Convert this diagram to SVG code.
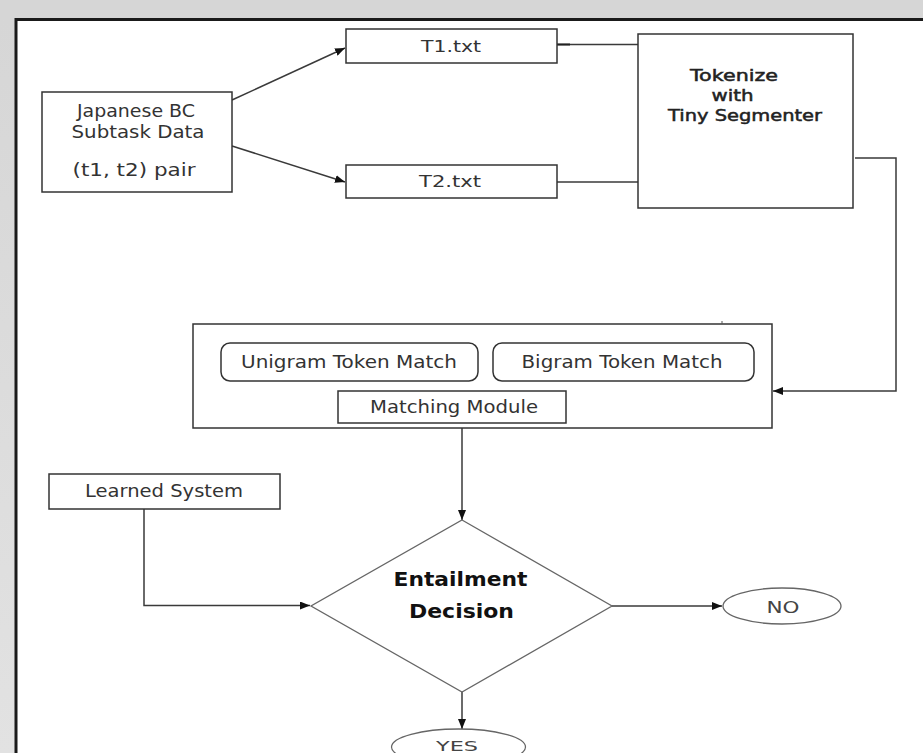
<svg xmlns="http://www.w3.org/2000/svg" width="923" height="753" viewBox="0 0 923 753">
<defs>
<style>
.box{fill:#fff;stroke:#333;stroke-width:1.5}
.dia{fill:#fff;stroke:#666;stroke-width:1.3}
.con{fill:none;stroke:#3a3a3a;stroke-width:1.5}
.t{font-family:"Comic Sans MS","DejaVu Sans",sans-serif;fill:#333;text-anchor:middle}
.tb{font-family:"Comic Sans MS","DejaVu Sans",sans-serif;fill:#111;font-weight:bold;text-anchor:middle}
.tk{font-family:"Comic Sans MS","DejaVu Sans",sans-serif;fill:#222;stroke:#222;stroke-width:0.5;text-anchor:middle}
.tl{font-family:"DejaVu Sans","Liberation Sans",sans-serif;fill:#444;text-anchor:middle}
</style>
<linearGradient id="side" x1="0" y1="0" x2="0" y2="1">
<stop offset="0" stop-color="#d6d6d6"/>
<stop offset="1" stop-color="#e2e2e2"/>
</linearGradient>
<marker id="ah" viewBox="0 0 10 8" refX="10" refY="4" markerWidth="10" markerHeight="8" markerUnits="userSpaceOnUse" orient="auto">
<path d="M0,0 L10,4 L0,8 Z" fill="#111"/>
</marker>
</defs>

<rect x="0" y="0" width="923" height="753" fill="#d6d6d6"/>
<rect x="0" y="19" width="16" height="734" fill="url(#side)"/>
<rect x="16" y="19" width="907" height="734" fill="#fff"/>
<path d="M16,753 V19.5 H923" fill="none" stroke="#1a1a1a" stroke-width="3"/>

<g id="connectors">
<line class="con" x1="232" y1="100" x2="345" y2="48" marker-end="url(#ah)"/>
<line class="con" x1="232" y1="146" x2="345" y2="182" marker-end="url(#ah)"/>
<line class="con" x1="557" y1="44.5" x2="638" y2="44.5"/>
<line x1="557" y1="44.5" x2="570" y2="44.5" stroke="#222" stroke-width="2"/>
<line class="con" x1="557" y1="182" x2="638" y2="182"/>
<path class="con" d="M855,158 H896 V391 H773" marker-end="url(#ah)"/>
<line class="con" x1="462" y1="428" x2="462" y2="520" marker-end="url(#ah)"/>
<path class="con" d="M144,509 V605.5 H310" marker-end="url(#ah)"/>
<line class="con" x1="612" y1="606" x2="722" y2="606" marker-end="url(#ah)"/>
<line class="con" x1="462" y1="692" x2="462" y2="729" marker-end="url(#ah)"/>
</g>

<g id="japanese-bc">
<rect class="box" x="42" y="92" width="190" height="100"/>
<text class="t" x="136" y="117" font-size="17" textLength="118" lengthAdjust="spacingAndGlyphs">Japanese BC</text>
<text class="t" x="138" y="138" font-size="17" textLength="133" lengthAdjust="spacingAndGlyphs">Subtask Data</text>
<text class="t" x="134" y="176" font-size="17" textLength="123" lengthAdjust="spacingAndGlyphs">(t1, t2) pair</text>
</g>

<g id="t1">
<rect class="box" x="346" y="29" width="211" height="34"/>
<text class="t" x="451" y="52" font-size="16" textLength="60" lengthAdjust="spacingAndGlyphs">T1.txt</text>
</g>

<g id="t2">
<rect class="box" x="346" y="165" width="211" height="33"/>
<text class="t" x="450" y="187" font-size="16" textLength="62" lengthAdjust="spacingAndGlyphs">T2.txt</text>
</g>

<g id="tokenize">
<rect class="box" x="638" y="34" width="215" height="174"/>
<text class="tk" x="734" y="81" font-size="16" textLength="88" lengthAdjust="spacingAndGlyphs">Tokenize</text>
<text class="tk" x="732.5" y="101" font-size="16" textLength="42" lengthAdjust="spacingAndGlyphs">with</text>
<text class="tk" x="745" y="121" font-size="16" textLength="154" lengthAdjust="spacingAndGlyphs">Tiny Segmenter</text>
</g>

<g id="matching-module">
<rect class="box" x="193" y="324" width="579" height="104"/>
<line x1="722" y1="321" x2="722" y2="324" stroke="#555" stroke-width="1"/>
<g id="unigram">
<rect class="box" x="221" y="343" width="257" height="38" rx="9"/>
<text class="t" x="349" y="368" font-size="17" textLength="216" lengthAdjust="spacingAndGlyphs">Unigram Token Match</text>
</g>
<g id="bigram">
<rect class="box" x="493" y="343" width="261" height="38" rx="9"/>
<text class="t" x="622" y="368" font-size="17" textLength="201" lengthAdjust="spacingAndGlyphs">Bigram Token Match</text>
</g>
<rect class="box" x="338" y="391" width="228" height="32"/>
<text class="t" x="454" y="413" font-size="17" textLength="168" lengthAdjust="spacingAndGlyphs">Matching Module</text>
</g>

<g id="learned-system">
<rect class="box" x="49" y="474" width="231" height="35"/>
<text class="t" x="164" y="497" font-size="17" textLength="158" lengthAdjust="spacingAndGlyphs">Learned System</text>
</g>

<g id="entailment-decision">
<polygon class="dia" points="462,520 612,606 462,692 311,606"/>
<text class="tb" x="460.5" y="586" font-size="19" textLength="134" lengthAdjust="spacingAndGlyphs">Entailment</text>
<text class="tb" x="461.5" y="618" font-size="19" textLength="105" lengthAdjust="spacingAndGlyphs">Decision</text>
</g>

<g id="no">
<ellipse class="dia" cx="782" cy="606" rx="59" ry="18"/>
<text class="tl" x="783" y="612.5" font-size="15" textLength="33" lengthAdjust="spacingAndGlyphs">NO</text>
</g>

<g id="yes">
<ellipse class="dia" cx="458.5" cy="747" rx="67" ry="18"/>
<text class="tl" x="457" y="750.5" font-size="14" textLength="42" lengthAdjust="spacingAndGlyphs">YES</text>
</g>
</svg>
